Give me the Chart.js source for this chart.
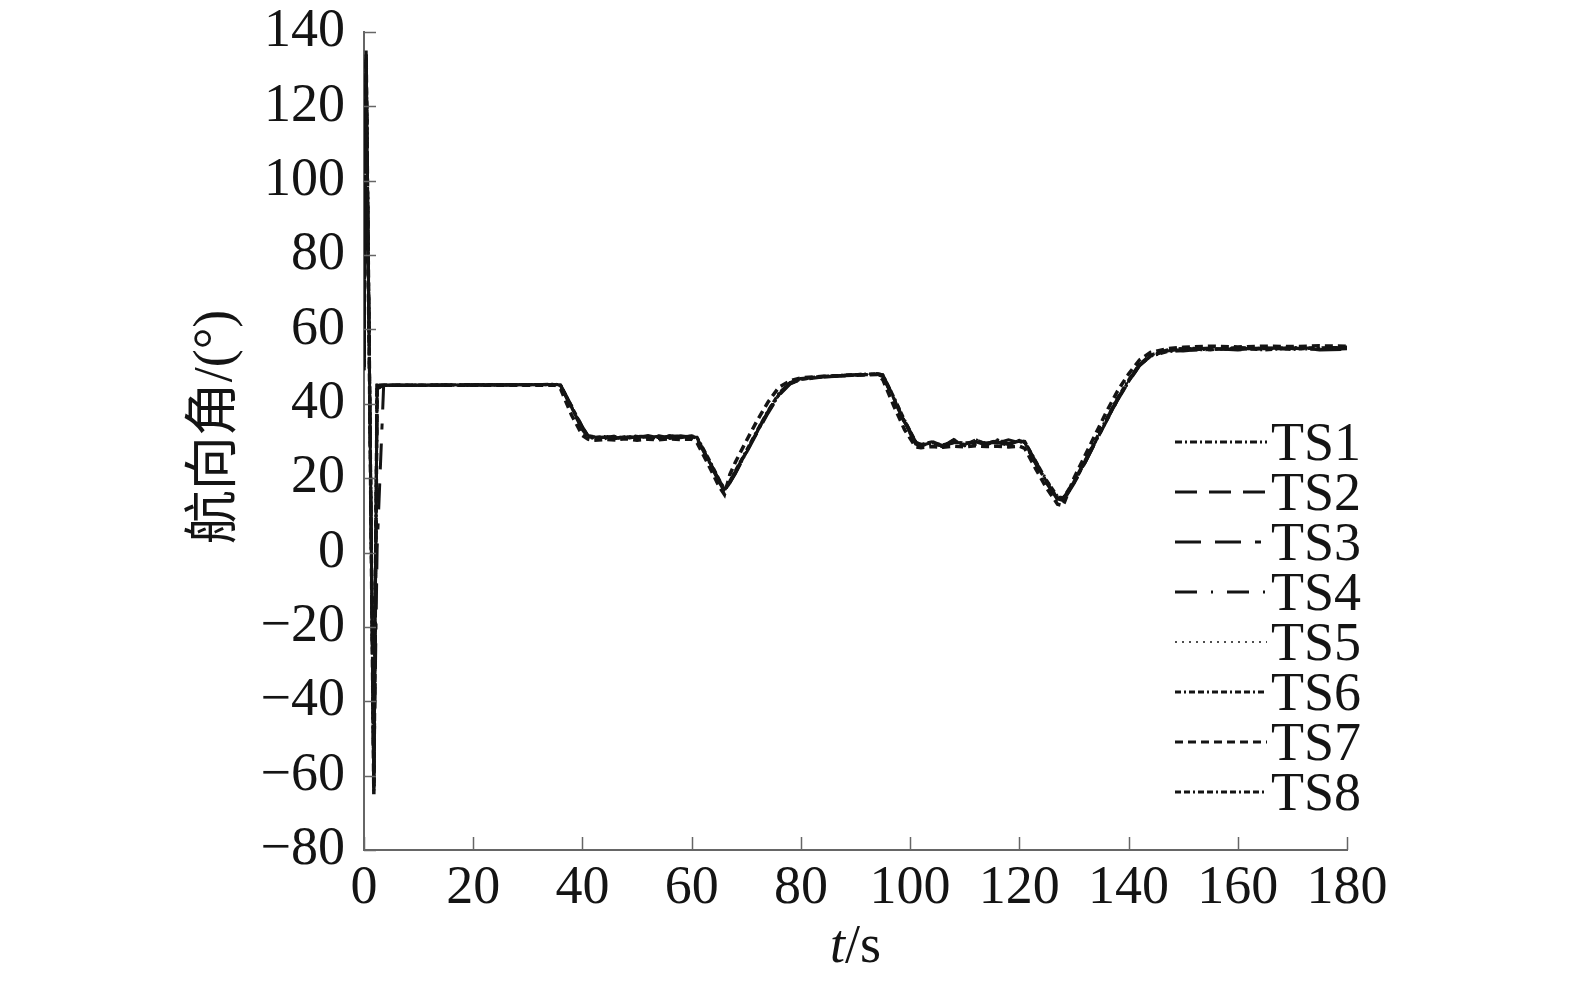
<!DOCTYPE html>
<html>
<head>
<meta charset="utf-8">
<script src="https://cdn.jsdelivr.net/npm/chart.js@4/dist/chart.umd.min.js"></script>
<style>
html, body { margin: 0; padding: 0; background: #fff; }
</style>
</head>
<body>
<canvas id="chart" width="1575" height="981"></canvas>
<script>
// sample times (s), shared by all series
const times = [0, 0.4, 1.8, 2.4, 3.6,
    10, 20, 30, 35, 36,
    38, 40, 41, 42, 44,
    46, 48, 50, 52, 54, 56, 58, 60,
    61, 63, 65, 66, 67, 68,
    70, 72, 74, 76, 78, 80, 84, 88, 92, 94,
    95, 97, 99, 101, 102,
    104, 106, 108, 110, 112, 114, 116, 118, 120,
    121, 123, 125, 127, 128,
    130, 132, 134, 136, 138, 140, 142, 144,
    147, 150, 155, 160, 165, 170, 175, 180];

// heading angle (deg) per test
const ts1 = [50, 134, -63, 45, 45,
    45, 45.1, 45.2, 45.2, 45,
    39.2, 33.5, 31.2, 31, 30.6,
    31.2, 30.8, 31.4, 30.9, 31.3, 30.7, 31.2, 31.3,
    30.8, 25, 19.2, 16.8, 19, 21.5,
    27, 32.5, 37.8, 42.5, 45.5, 46.6, 47.3, 47.6, 47.9, 48,
    47.6, 41.5, 35.2, 29.5, 28.8,
    29.6, 28.5, 30.1, 29, 30.3, 29.2, 30.1, 29, 30.2,
    29.6, 24.2, 19, 14.6, 14.2,
    18.8, 24.2, 30, 35.6, 41.2, 46, 50.4, 52.8,
    54, 54.4, 54.6, 54.8, 54.5, 54.9, 54.6, 54.8];
const ts2 = [49, 133, -64, 44, 45,
    45, 45, 45.1, 45.2, 44.8,
    38.8, 33, 31, 30.8, 31,
    30.6, 31.3, 30.9, 31.5, 30.8, 31.1, 31.4, 31,
    30.5, 24.8, 19, 16.4, 18.8, 21.2,
    26.8, 32.2, 37.5, 42.3, 45.3, 46.5, 47.2, 47.6, 47.8, 47.9,
    47.3, 41.2, 34.8, 29.2, 28.6,
    29.2, 28.8, 29.7, 29.4, 29.8, 28.9, 30.4, 29.3, 29.9,
    29.2, 23.8, 18.6, 14.2, 13.8,
    18.5, 24, 29.8, 35.4, 41, 45.8, 50.2, 52.8,
    54.2, 54.7, 55, 54.6, 55.1, 54.8, 55.2, 55];
const ts3 = [50, 132, -62, 1, 45,
    45, 45.1, 45.1, 45.2, 45.1,
    39.5, 33.8, 31.5, 31.2, 30.9,
    31.4, 30.6, 31.2, 31.1, 30.8, 31.5, 30.9, 31.4,
    31, 25.3, 19.5, 17.2, 19.2, 21.8,
    27.2, 32.8, 38, 42.8, 45.6, 46.8, 47.4, 47.7, 48, 48.1,
    47.8, 41.8, 35.5, 29.8, 29,
    29.9, 28.7, 29.5, 30.2, 29.1, 29.8, 29.5, 30.3, 29.6,
    29.8, 24.5, 19.3, 15, 14.5,
    19, 24.5, 30.3, 36, 41.5, 46.3, 50.6, 53,
    54.4, 54.2, 54.9, 54.5, 54.8, 55.1, 54.5, 54.6];
const ts4 = [51, 135, -64, 44, 45,
    45.1, 45, 45.2, 45.1, 44.9,
    39, 33.3, 31.1, 30.7, 31.3,
    30.9, 31, 31.6, 30.7, 31.4, 30.9, 31.1, 31.2,
    30.7, 25.1, 19.4, 16.6, 18.7, 21.4,
    27.1, 32.6, 37.9, 42.6, 45.4, 46.7, 47.2, 47.5, 47.8, 48,
    47.5, 41.4, 35, 29.4, 28.7,
    29.3, 28.6, 30.4, 28.8, 30, 29.5, 29.6, 28.8, 30.1,
    29.4, 24, 18.8, 14.4, 14,
    18.6, 24.1, 29.9, 35.5, 41.1, 45.9, 50.3, 52.7,
    54.1, 54.8, 54.6, 55, 54.7, 54.9, 54.8, 54.9];
const ts5 = [50, 134, -62, 45, 45,
    45, 45.1, 45.2, 45.2, 45,
    39.3, 33.6, 31.3, 31.1, 30.8,
    31, 31.1, 31.2, 31, 31.2, 30.9, 31.3, 31.2,
    30.9, 25.4, 19.6, 17, 19.1, 21.6,
    27, 32.4, 37.7, 42.4, 45.4, 46.6, 47.3, 47.6, 47.9, 48,
    47.6, 41.6, 35.3, 29.6, 28.9,
    29.5, 28.9, 29.8, 29.3, 30, 29.4, 29.9, 29.2, 30,
    29.6, 24.3, 19.1, 14.8, 14.3,
    18.9, 24.3, 30.1, 35.7, 41.3, 46.1, 50.5, 52.9,
    54.2, 54.6, 54.7, 54.9, 54.6, 55, 54.7, 54.8];
const ts6 = [49, 131, -60, 45, 45,
    45, 45, 45.1, 45.1, 44.9,
    39.1, 33.4, 31.2, 30.9, 31.1,
    30.8, 31.2, 31, 31.3, 30.9, 31.2, 31, 31.3,
    30.8, 25.2, 19.3, 16.7, 18.9, 21.5,
    26.9, 32.5, 37.8, 42.5, 45.5, 46.6, 47.3, 47.6, 47.8, 48,
    47.5, 41.5, 35.1, 29.5, 28.8,
    29.4, 29, 29.6, 29.5, 29.7, 29.3, 30.2, 29.1, 30.1,
    29.5, 24.1, 18.9, 14.5, 14.1,
    18.7, 24.2, 30, 35.6, 41.2, 46, 50.4, 52.9,
    54.3, 55, 54.8, 54.7, 55, 54.6, 55.1, 55.1];
const ts7 = [50, 133, -65, 45, 45,
    45, 45, 45, 45, 44,
    37, 31.5, 30.5, 30.2, 30.4,
    30.3, 30.6, 30.2, 30.5, 30.3, 30.6, 30.4, 30.5,
    29.5, 23.8, 17.8, 15.6, 21, 24.3,
    30, 35.5, 40.5, 44.5, 46.2, 47, 47.4, 47.6, 47.8, 47.9,
    46.5, 39.5, 33, 28.4, 28.2,
    28.5, 28.3, 28.6, 28.4, 28.7, 28.5, 28.6, 28.4, 28.6,
    28, 22.5, 17.3, 13, 12.6,
    20, 26, 32, 38, 43.5, 48, 51.8, 53.8,
    54.8, 55.2, 55.5, 55.3, 55.5, 55.4, 55.6, 55.5];
const ts8 = [50, 134, -64, 45, 45,
    45, 45.2, 45.1, 45.3, 45,
    39.4, 33.7, 31.4, 31, 31.2,
    30.7, 31, 31.3, 31.2, 30.6, 31.4, 31.2, 31,
    31, 25.6, 19.8, 17, 19.3, 22,
    27.4, 32.9, 38.2, 42.9, 45.7, 46.8, 47.4, 47.7, 48, 48.1,
    47.8, 41.9, 35.6, 29.9, 29.1,
    29.8, 28.4, 30.3, 28.7, 30.4, 29, 30.3, 28.9, 30.2,
    29.9, 24.6, 19.4, 15.1, 14.7,
    19.2, 24.7, 30.5, 36.1, 41.7, 46.4, 50.7, 53.1,
    54.5, 54.9, 54.5, 55.2, 54.8, 55.2, 54.9, 55.3];

const seriesNames = ["TS1", "TS2", "TS3", "TS4", "TS5", "TS6", "TS7", "TS8"];
const seriesValues = [ts1, ts2, ts3, ts4, ts5, ts6, ts7, ts8];

const xTitle = ["t", "/s"];
const yTitle = "航向角/(°)";

// line style per test
const dashes = [[7, 3, 2, 3], [22, 12], [26, 14, 26, 14, 6, 14], [22, 14, 2, 14],
                [2, 5], [6, 3, 2, 3, 6, 3], [8, 5], [6, 3, 6, 3, 2, 3]];
const widths = [3, 3, 3, 3, 1.5, 3, 3.5, 3];

const INK = "#141414";
const AXIS = "#666";
const SERIF = '"Liberation Serif", "Times New Roman", serif';

// inner ticks, legend and axis titles
const decor = {
    id: "decor",
    afterDraw(chart)
    {
        const ctx = chart.ctx;
        const xs = chart.scales.x, ys = chart.scales.y;
        const area = chart.chartArea;
        ctx.save();

        // ticks pointing into the plot
        ctx.strokeStyle = AXIS;
        ctx.lineWidth = 1.5;
        xs.ticks.forEach(t => {
            const px = Math.round(xs.getPixelForValue(t.value)) + 0.5;
            ctx.beginPath();
            ctx.moveTo(px, area.bottom);
            ctx.lineTo(px, area.bottom - 13);
            ctx.stroke();
        });
        ys.ticks.forEach(t => {
            const py = Math.round(ys.getPixelForValue(t.value)) + 0.5;
            ctx.beginPath();
            ctx.moveTo(area.left, py);
            ctx.lineTo(area.left + 12, py);
            ctx.stroke();
        });

        // legend
        ctx.font = "54px " + SERIF;
        ctx.fillStyle = INK;
        ctx.textAlign = "left";
        ctx.textBaseline = "alphabetic";
        chart.data.datasets.forEach((ds, i) => {
            const y = 442 + 50 * i;
            ctx.save();
            ctx.strokeStyle = INK;
            ctx.lineWidth = Math.min(ds.borderWidth, 3);
            ctx.setLineDash(ds.borderDash);
            ctx.beginPath();
            ctx.moveTo(1175, y);
            ctx.lineTo(1267, y);
            ctx.stroke();
            ctx.restore();
            ctx.fillText(ds.label, 1271, y + 18);
        });

        // x title: italic t, upright /s
        ctx.font = "italic 54px " + SERIF;
        const w1 = ctx.measureText(xTitle[0]).width;
        ctx.font = "54px " + SERIF;
        const w2 = ctx.measureText(xTitle[1]).width;
        const x0 = (area.left + area.right) / 2 - (w1 + w2) / 2;
        ctx.font = "italic 54px " + SERIF;
        ctx.fillText(xTitle[0], x0, 962);
        ctx.font = "54px " + SERIF;
        ctx.fillText(xTitle[1], x0 + w1, 962);

        // y title, rotated
        ctx.translate(217, 427);
        ctx.rotate(-Math.PI / 2);
        ctx.textAlign = "center";
        ctx.textBaseline = "middle";
        ctx.font = '54px "Liberation Serif", "Noto Sans CJK SC", serif';
        ctx.fillText(yTitle, 0, 0);

        ctx.restore();
    }
};

document.addEventListener("DOMContentLoaded", () =>
{
    const datasets = seriesNames.map((name, i) => ({
        label: name,
        data: times.map((t, k) => ({x: t, y: seriesValues[i][k]})),
        borderColor: INK,
        borderWidth: widths[i],
        borderDash: dashes[i],
        pointRadius: 0,
        tension: 0,
        fill: false
    }));

    const tickFont = {family: SERIF, size: 54};

    new Chart(document.getElementById("chart").getContext("2d"),
    {
        type: "line",
        data: {datasets: datasets},
        options:
        {
            responsive: false,
            animation: false,
            devicePixelRatio: 1,
            layout: {padding: {top: 32, right: 228, bottom: 0, left: 0}},
            plugins:
            {
                legend: {display: false},
                tooltip: {enabled: false}
            },
            scales:
            {
                x:
                {
                    type: "linear",
                    min: 0,
                    max: 180,
                    ticks: {stepSize: 20, padding: 6, color: INK, font: tickFont, maxRotation: 0},
                    grid: {display: false, drawTicks: false},
                    border: {display: true, color: AXIS, width: 2},
                    afterFit: s => { s.height = 131; }
                },
                y:
                {
                    min: -80,
                    max: 140,
                    ticks: {stepSize: 20, padding: 19, color: INK, font: tickFont,
                            callback: v => String(v).replace("-", "\u2212")},
                    grid: {display: false, drawTicks: false},
                    border: {display: true, color: AXIS, width: 2},
                    afterFit: s => { s.width = 364; s.paddingTop = 0; s.paddingBottom = 0; }
                }
            }
        },
        plugins: [decor]
    });
});
</script>
</body>
</html>
